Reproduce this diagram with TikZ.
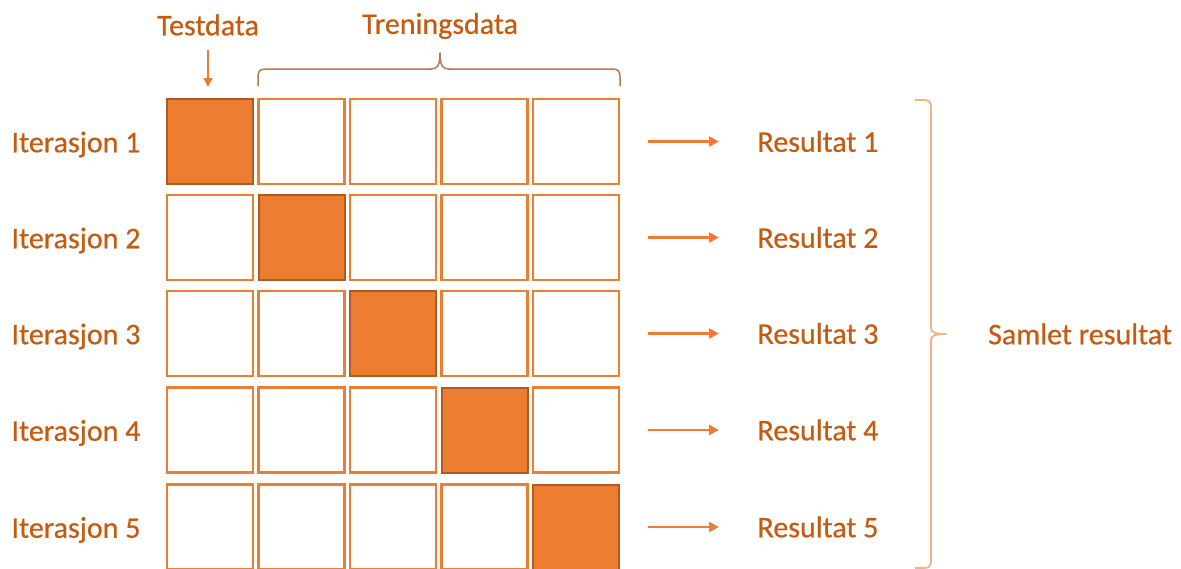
\documentclass[tikz,border=0pt]{standalone}
\usepackage{fontspec}
\setmainfont{Carlito}
\newfontfamily\lblfont{Carlito}[FakeBold=0.5]
\usetikzlibrary{arrows.meta}
\definecolor{accent}{HTML}{ED7D31}
\definecolor{accentdark}{HTML}{AE5A21}
\definecolor{labeltext}{HTML}{C55A11}
\definecolor{bracetan}{HTML}{B07A55}
\definecolor{bracelight}{HTML}{F4B183}
\begin{document}
\begin{tikzpicture}[x=1pt,y=-1pt,
  cell/.style={draw=accent,line width=2.4pt,fill=white,minimum width=86pt,minimum height=85pt,inner sep=0pt,outer sep=0pt},
  testcell/.style={cell,fill=accent,draw=accentdark,line width=2pt},
  lbl/.style={text=labeltext,font=\lblfont\fontsize{30}{33}\selectfont,inner sep=0pt},
  resarrow/.style={draw=accent,line width=2.6pt,-{Triangle[length=10pt,width=10pt]}}]
\useasboundingbox (0,0) rectangle (1181,568);
% grid of folds: one test fold per iteration
\foreach \r/\y in {1/141.5,2/237.5,3/333.5,4/430,5/527}{
  \foreach \c/\x in {1/210,2/301.5,3/393,4/484.5,5/576}{
    \ifnum\c=\r
      \node[testcell] (c\r\c) at (\x,\y) {};
    \else
      \node[cell] (c\r\c) at (\x,\y) {};
    \fi
  }
  \node[lbl] (it\r) at (76,\y+3) {Iterasjon \r};
  \coordinate (a\r) at (648,\y);
  \coordinate (b\r) at (719,\y);
  \draw[resarrow] (a\r) -- (b\r);
  \node[lbl] (res\r) at (818,\y) {Resultat \r};
}
% headings above the grid
\node[lbl] (test) at (208,25) {Testdata};
\node[lbl] (train) at (440,26) {Treningsdata};
\coordinate (tA) at (208,50);
\coordinate (tB) at (208,87);
\draw[draw=accent,line width=1.5pt,-{Triangle[length=9pt,width=9pt]}] (tA) -- (tB);
% brace over the training folds
\coordinate (trL) at (258,86);
\coordinate (trR) at (620,86);
\draw[bracetan,line width=1.5pt,line join=round]
  (trL) -- (258,77) .. controls (258,71) and (260,69) .. (266,69)
  -- (431,69) .. controls (437,69) and (440,66) .. (440,53)
  .. controls (440,66) and (443,69) .. (449,69)
  -- (612,69) .. controls (618,69) and (620,71) .. (620,77) -- (trR);
% brace gathering the five results
\coordinate (bTop) at (915,100);
\coordinate (bBot) at (915,568);
\coordinate (bTip) at (946,334);
\draw[bracelight,line width=1.8pt,line join=round]
  (bTop) -- (924,100) .. controls (929,100) and (931,102) .. (931,107)
  -- (931,328) .. controls (931,332) and (934,334) .. (bTip)
  .. controls (934,334) and (931,336) .. (931,340)
  -- (931,561) .. controls (931,566) and (929,568) .. (924,568) -- (bBot);
\node[lbl] (samlet) at (1080,334) {Samlet resultat};
\end{tikzpicture}
\end{document}
